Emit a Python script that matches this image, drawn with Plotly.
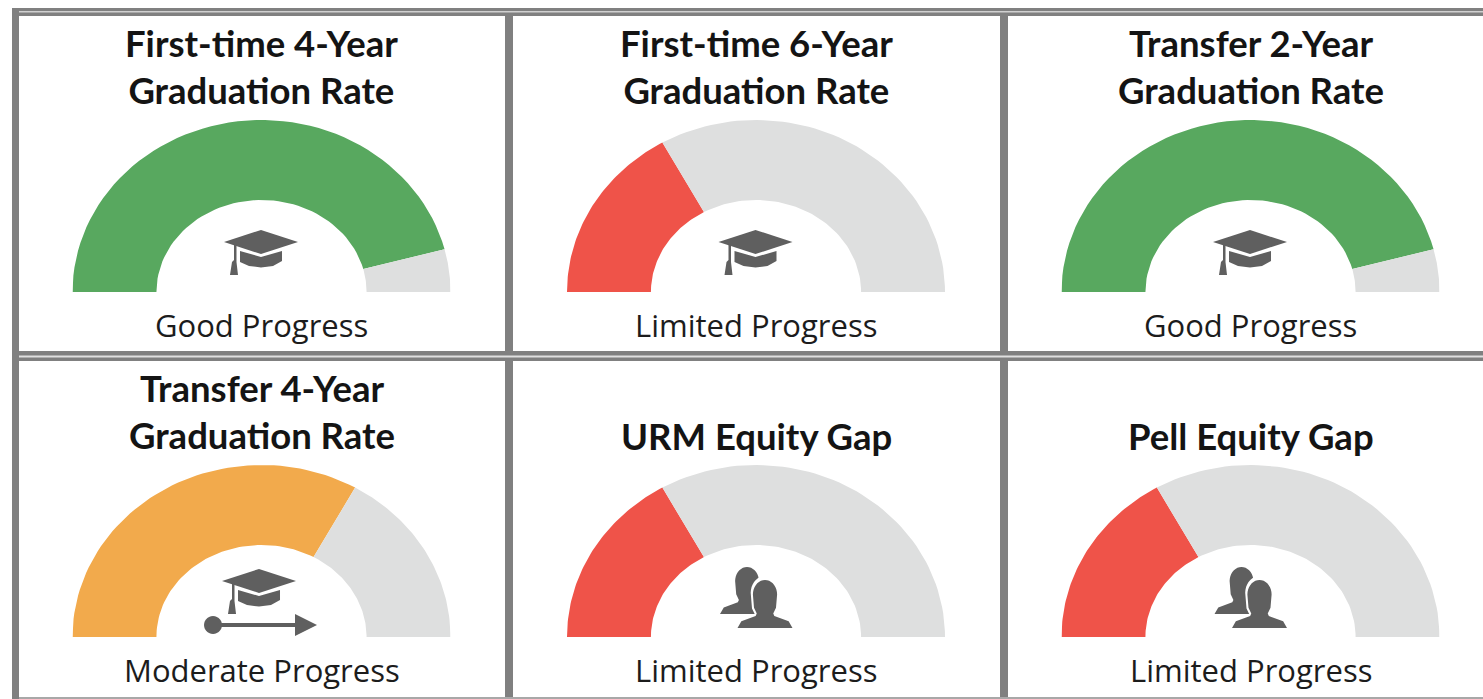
import math
import plotly.graph_objects as go

W, H = 1483, 699
titles = ["First-time 4-Year<br>Graduation Rate", "First-time 6-Year<br>Graduation Rate",
          "Transfer 2-Year<br>Graduation Rate", "Transfer 4-Year<br>Graduation Rate",
          "URM Equity Gap", "Pell Equity Gap"]
statuses = ["Good Progress", "Limited Progress", "Good Progress",
            "Moderate Progress", "Limited Progress", "Limited Progress"]
shares = [0.92, 0.335, 0.92, 0.665, 0.335, 0.335]
icons = ["cap", "cap", "cap", "cap_arrow", "people", "people"]

STATUS_COLORS = {"Good Progress": "#58a85f", "Limited Progress": "#ef5349",
                 "Moderate Progress": "#f2aa4c"}
REST = "#dedfdf"
FRAME = "#808080"
INK = "#5f5f5f"
TEXT = "#1c1c1c"
CENTER_X = [261.5, 756, 1250.5]
BASE_Y = [292, 637]
RX, RY, HOLE_X, HOLE_Y = 189, 172, 0.556, 0.535


def px(x):
    return x / W


def py(y):
    return 1 - y / H


def band(a, b):
    """Closed ring segment between shares a and b of the half circle."""
    ts = [a + (b - a) * i / 60 for i in range(61)]
    xs = [-math.cos(math.pi * t) for t in ts]
    ys = [math.sin(math.pi * t) for t in ts]
    return (xs + [HOLE_X * v for v in reversed(xs)] + [xs[0]],
            ys + [HOLE_Y * v for v in reversed(ys)] + [ys[0]])


fig = go.Figure()
layout = {}
for i, (share, status) in enumerate(zip(shares, statuses)):
    row, col = divmod(i, 3)
    cx, by = CENTER_X[col], BASE_Y[row]
    s = "" if i == 0 else str(i + 1)
    layout[f"xaxis{s}"] = dict(domain=[px(cx - RX), px(cx + RX)], range=[-1, 1], visible=False, fixedrange=True)
    layout[f"yaxis{s}"] = dict(domain=[py(by), py(by - RY)], range=[0, 1], visible=False, fixedrange=True)
    for a, b, color in [(0, share, STATUS_COLORS[status]), (share, 1, REST)]:
        x, y = band(a, b)
        fig.add_trace(go.Scatter(x=x, y=y, xaxis=f"x{s}", yaxis=f"y{s}", mode="lines", fill="toself",
                                 fillcolor=color, line=dict(width=0), hoverinfo="skip", showlegend=False))


def poly(points, ox, oy):
    return "M" + " L".join(f"{px(ox + a):.5f},{py(oy + b):.5f}" for a, b in points) + " Z"


def ink_shape(path, color=INK):
    return dict(type="path", path=path, xref="paper", yref="paper", fillcolor=color, line=dict(width=0), layer="above")


def circle_pts(cx, cy, rx, ry, a0=0, a1=360, n=28):
    return [(cx + rx * math.cos(math.radians(a0 + (a1 - a0) * k / n)),
             cy + ry * math.sin(math.radians(a0 + (a1 - a0) * k / n))) for k in range(n + 1)]


CAP_BOARD = [(-37, 0), (0, -12), (37, 0), (0, 12)]
CAP_BODY = [(-21, 9), (0, 15), (21, 9), (21, 19), (12, 24), (0, 25.5), (-12, 24), (-21, 20)]
CAP_CORD = [(-27, 3), (-24.5, 2), (-24.5, 20), (-23, 33), (-31, 33), (-29, 20), (-27, 18)]


def cap(cx, cy):
    return [ink_shape(poly(p, cx, cy)) for p in (CAP_BOARD, CAP_BODY, CAP_CORD)]


def person(cx, top, w, h):
    """Head-and-shoulders silhouette; w and h are the overall size."""
    head = circle_pts(0, 0.30 * h, 0.22 * w, 0.30 * h, 180, 360, 18)
    return [(cx + a, top + b) for a, b in head + [
        (0.20 * w, 0.58 * h), (0.15 * w, 0.70 * h), (0.17 * w, 0.75 * h), (0.43 * w, 0.86 * h), (0.50 * w, h),
        (-0.50 * w, h), (-0.43 * w, 0.86 * h), (-0.17 * w, 0.75 * h), (-0.15 * w, 0.70 * h), (-0.20 * w, 0.58 * h)]]


shapes = []
for i, kind in enumerate(icons):
    row, col = divmod(i, 3)
    cx, by = CENTER_X[col], BASE_Y[row]
    if kind == "cap":
        shapes += cap(cx - 0.5, by - 50)
    elif kind == "cap_arrow":
        shapes += cap(cx - 2.5, by - 56)
        shapes.append(ink_shape(poly(circle_pts(0, 0, 9, 9), cx - 48.5, by - 12)))
        shapes.append(ink_shape(poly([(-48, -14), (34, -14), (34, -10), (-48, -10)], cx, by)))
        shapes.append(ink_shape(poly([(33.5, -23), (55.5, -12), (33.5, -1)], cx, by)))
    else:
        # rear figure, a white halo, then the front figure
        shapes.append(ink_shape(poly(person(cx - 9, by - 70, 54, 47), 0, 0)))
        shapes.append(ink_shape(poly(person(cx + 9, by - 61, 65, 56), 0, 0), "#ffffff"))
        shapes.append(ink_shape(poly(person(cx + 9, by - 57, 55, 48), 0, 0)))


def rect(x0, y0, x1, y1, color=FRAME):
    return dict(type="rect", xref="paper", yref="paper", x0=px(x0), x1=px(x1), y0=py(y0), y1=py(y1),
                fillcolor=color, line=dict(width=0), layer="below")


frame = [rect(12, 8, W, 16), rect(12, 8, 19, 699),
         rect(505, 12, 513, 699), rect(1000, 12, 1008, 699),
         rect(12, 351, W, 361), rect(19, 355.5, W, 357.5, "#e0e0e0"),
         rect(19, 11, W, 12.5, "#d0d0d0"),
         rect(19, 697, W, 699, "#a8a8a8")]

annotations = []
for i, (title, status) in enumerate(zip(titles, statuses)):
    row, col = divmod(i, 3)
    cx = CENTER_X[col]
    by = BASE_Y[row]
    two_lines = "<br>" in title
    annotations.append(dict(text=f"<b>{title}</b>", xref="paper", yref="paper", showarrow=False,
                            x=px(cx), y=py(by - 226 if two_lines else by - 201), xanchor="center", yanchor="middle",
                            font=dict(family="Lato", size=36.5, color="#141414"), align="center"))
    annotations.append(dict(text=status, xref="paper", yref="paper", showarrow=False,
                            x=px(cx), y=py(by + 32.5), xanchor="center", yanchor="middle",
                            font=dict(family="Open Sans", size=31, color=TEXT)))

fig.update_layout(width=W, height=H, margin=dict(l=0, r=0, t=0, b=0), paper_bgcolor="#ffffff",
                  plot_bgcolor="rgba(0,0,0,0)", showlegend=False,
                  shapes=frame + shapes, annotations=annotations, **layout)
fig.write_html("out.html", config=dict(displayModeBar=False),
               post_script="document.body.style.margin='0';document.documentElement.style.overflow='hidden';")
